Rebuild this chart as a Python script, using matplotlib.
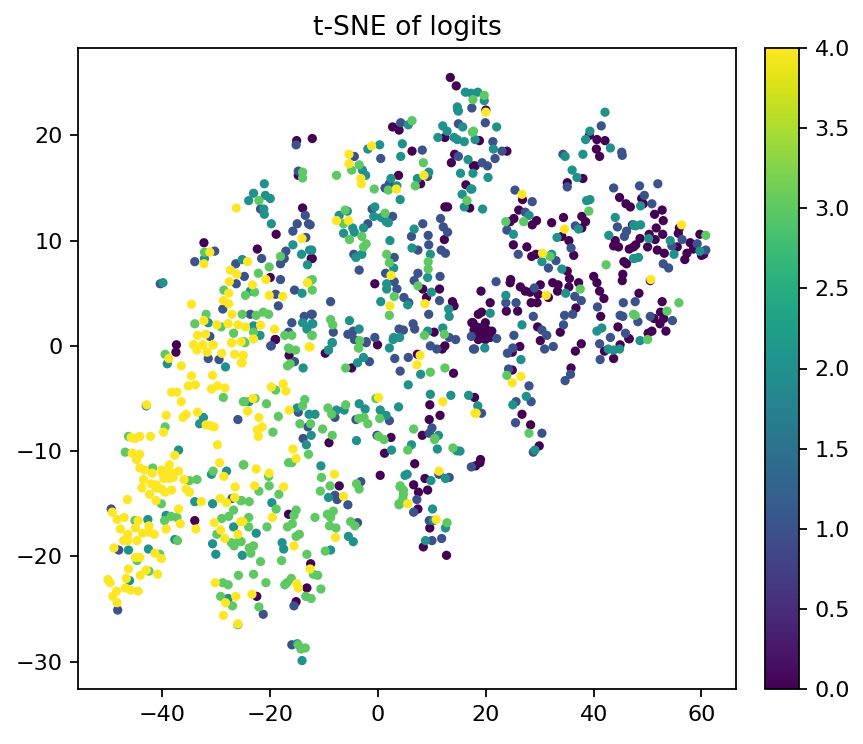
import matplotlib
matplotlib.use('Agg')
import matplotlib.pyplot as plt
import numpy as np

# t-SNE coordinates, one list per class
class_0 = [
    (-37.4,0.1),(-37.5,-0.6),(-34,-16.6),(-16.6,-16),(-12.5,-20.7),(-13.2,-23),(-15.2,-24.3),(-22.5,-23.8),
    (-19.1,.6),(-16.5,-0.9),(-9.8,-0.7),(-0.1,0.1),(-4.9,-2.1),(-9.1,-9.2),(2.4,-8.7),(1.2,-10.2),(0.4,-12.3),(-7.2,-13.3),
    (-18.9,10.6),(-14,13.1),(-22.4,9.2),(-32.3,9.8),(-12.4,8.3),(-20,6.5),(-19,.6),(-14.8,16.2),
    (-12.2,19.7),(-15.1,19.5),(2.7,20.8),(3.9,20.5),(6.3,18.5),(12.4,19.8),(14.2,18.2),(13.6,17.4),(17.7,17.1),(3.8,16.2),(7.9,15.4),
    (16.3,15.3),(12.9,13.2),(12.4,13.2),(17,13.1),(12.3,10.1),(-0.6,5.9),(8.3,5.4),(11.4,5.4),(-12.2,8.3),
    (9,4.6),(13.8,4.2),(14.1,3.8),(17.4,2.2),(17.8,1.5),(10.4,1.3),(12.4,0),(11.9,-.3),(7.3,-.8),(14,-2.6),
    (9.6,-5.6),(11.5,-6.6),(9.5,-7),(8.2,-8.5),(6.8,-11.2),(8.7,-12.6),(6.6,-13.2),(7.5,-13.9),(9.2,-13.7),(7.4,-15.5),(9.6,-17.3),(8.4,-19.1),
    (12.7,-19.9),(18.9,-11.1),(18.1,-11.4),(29.9,-9.5),(13.4,25.5),(14.5,24.7),(20,22.4),
    (19.1,5.2),(24.5,6),(26.4,5.6),(27.3,5.2),(28.2,5.1),(30.1,5.8),(29.7,4.9),(31.6,4.6),(32.4,6),(33.4,5.8),(33.3,5.2),(35.4,5.6),(37.2,6),
    (40.6,6),(45.3,6.2),(41.1,5.2),(41.9,4.5),(36.7,3.6),(20.8,4.1),(28.4,4.1),(29.5,4.1),(23.8,3.3),(25.9,3.3),(19.2,3.2),(18.6,3),(29.6,1.8),
    (41.3,2.8),(44.5,1.8),(33.8,1.3),(30.1,.5),(26.3,-.06),(24.9,-.6),(37.7,.2),(36.6,-.5),(46.6,.67),(44.9,.1),(42,-.5),(43.7,-1.2),(35.8,-2.1),
    (24.9,-2.3),(17.9,-4.9),(26.7,-6.5),(28.3,-7.5),(19,-10.8),
    (17.6,2.2),(18.3,1.8),(19.9,2.2),(18.9,1.5),(20.2,1.5),(21.1,1.4),(18,1.2),(19.2,1),(20.5,.9),(18.6,.6),(19.9,.6),(20.8,.8),(19.5,1.8),
    (18.8,19.5),(23.9,18.5),(18,17.1),(39.2,20),(40.6,19.6),(42.1,19.5),(40.5,18.7),(41.1,18),(38,15.9),(35.1,15.5),(26.8,13.9),(44.8,14.1),(46,13.5),
    (46.8,13.2),(26.1,12.9),(25.2,12.1),(24.5,11.8),(29.4,11.9),(28.6,11.5),(32.2,11.7),(34.4,12.2),(37.8,12.3),(38.5,11.8),(37.8,11.2),(34.1,10.4),
    (35.4,10),(25.1,9.6),(27.6,9.4),(29.3,8.7),(28.5,8.5),(36.3,8.6),(44,10),(43.7,9.5),(44.6,9.4),(46.6,9.2),(47.4,9.4),(45.6,8),(46.1,7.8),
    (45.4,6.8),(35.1,7.1),(35.5,6.4),(40,6.6),(24.6,6.3),
    (48.9,14),(49.2,13.5),(52.7,12.9),(51.3,12.5),(52.9,11.9),(47.2,11.5),(51.6,11.2),(52.8,10.6),(50.3,10.6),(48.6,10.2),(51.4,10.1),(55.9,11.2),
    (55.7,10.7),(59.7,10.6),(47.8,9.6),(50,9.4),(51.8,9.1),(53.1,8.8),(55.5,9.4),(57.9,9.8),(58.5,9.2),(57.3,8.8),(56.9,8.2),(60,8.6),(60.4,8.7),
    (50.5,6.2),(48.4,5),(52.7,4.2),(52.4,3.2),(51.2,2.6),(53,2.6),(52.3,2.1),(53.4,1.4),(50.8,1.4),(50.1,1.2),(46.5,.7),
]
class_1 = [
    (-31.5,-1.2),(-29.5,-1.3),(-26,-7.0),(-27.1,-14.5),(-49.5,-15.5),(-48.1,-19.4),(-48.3,-25.1),(-21.3,-25.5),(-15.6,-24.7),(-16,-28.4),
    (-3.8,-16.8),(-5.6,-15.1),(-7.6,-14.6),(-19.8,0),(-15.5,-1.5),(-2.2,0.3),(-1.6,-1.5),(3.1,-1.2),(4.1,-2.4),(-14.8,-6.3),(-13,-7.7),(-13.9,-8.8),
    (-8,-6.8),(-4.1,-7),(2.1,-7.1),(-0.2,-8.5),(-3.2,-12.9),(-8,-14.2),(-7.5,-14.5),
    (-21.8,13),(-13.5,12.4),(-15,11.6),(-12.9,11.6),(-15.8,10.9),(-13.4,10.3),(-30.3,9),(-34,8),(-17.1,9),(-17.4,8.3),(-18.1,7.8),(-21.6,8.3),
    (-26.4,7.8),(-24.8,6.6),(-26.3,5.9),(-18.1,6.3),(-15.5,5.3),(-19,4.9),(-18.5,3.8),(-28.8,3.5),(-23.7,3),(-13.7,2.8),(-16,2.2),(-12.4,3),(-16.6,1.3),
    (-19.9,0),(-31.2,0.9),(-40.4,5.9),(-14.8,16.6),(-15.2,19.1),
    (4.2,21.2),(0.5,17.8),(8.2,18.6),(14.9,21.1),(14.9,18),(-4.4,18),(9.2,16.1),(1.3,15),(2.1,15.4),(-1.1,13.0),(2.7,12.3),(-1.9,11.6),(11.6,12.1),
    (12.1,11.3),(12.9,10.8),(8.3,11.6),(6.2,10.4),(9.3,10.5),(9.4,9.6),(7.4,9.1),(11.7,9.1),(12.5,8.8),(-4.5,8.7),(3,8.4),(-3.5,7.2),(1.4,6.9),(3,6.1),
    (7.4,6.9),(6.7,6.2),(11.5,6.6),(3.5,5.4),(-12.6,11.5),(14.8,22.4),(17.4,22.6),
    (-8.8,4.2),(-12.2,3),(-8.3,1.3),(-5.6,1.1),(-4.6,1.4),(-4.4,.6),(-2.2,.4),(-.6,.8),(4.8,4.6),(5.7,4.1),(9.4,3),(11.4,4.3),(3.9,1.6),(4.7,1.5),
    (6.5,2.1),(6.8,1.6),(9.7,0),(10.9,-.3),(13.2,.8),(14.4,.6),(5.6,-1.1),(10,-7.8),(9.5,-8.3),(17.3,.9),(17.7,-.3),
    (17.3,-11.5),(11.3,-12.2),(13.2,-12.5),(7.2,-14.6),(6.6,-15.8),(9.5,-16.6),(10,-18.5),(11.8,-18.3),(28.8,-10.1),
    (21.9,6.1),(29,5.5),(23.7,4.1),(25.6,4.1),(28.8,2.8),(36.5,4.7),(37.7,4.3),(40.7,3.7),(45.5,4.1),(47.7,4.2),(34.6,2.9),(36.1,3),(34.4,2),(44.9,2.9),
    (45.4,2.8),(45.9,1.2),(43.1,.8),(41.1,.2),(30.4,1.5),(31.3,1),(25.2,1),(22,.7),(17.9,-.3),(25,-.2),(24,-.7),(30.9,-.3),(32.5,-.06),(41.2,-1.3),
    (24.2,-2.2),(35.7,-2.7),(34.7,-3.3),(28,-3.8),(28.4,-5.3),(25.6,-5.3),(19.2,-6.4),(25.5,-7.3),(30.4,-8.3),
    (19.9,21.2),(41.4,20.9),(21.3,19.4),(23,18.5),(21.7,17.8),(19.3,17.4),(20.3,17.1),(34.3,18.2),(45.2,18.4),(45.3,18.1),(35.1,15.1),(43.7,15),(25.4,14.8),
    (28.6,13.7),(27.3,12.7),(23.9,11),(36.6,11.4),(44.4,11.3),(46.1,10.9),(45.7,10.4),(26,8.7),(35.8,9.3),(33,8.1),(31.6,7.4),
    (48.5,15.2),(51.9,15.4),(49.4,14.3),(50.8,13.5),(56.4,10.1),(54.5,9.5),(59.2,9.7),(60.8,9.1),(52.9,7.8),(53.9,7.4),(48.2,2.3),(50.5,2.8),(54.6,2.4),
]
class_2 = [
    (-39.1,-1.7),(-28.3,-2.0),(-43,-5.7),(-32.4,-6.8),(-33.1,-7.4),(-37,-9.9),(-34,-14.8),(-30.9,-12.2),(-28.1,-11.9),(-30.7,-15.0),
    (-42.7,-16.5),(-39.3,-16.1),(-46.3,-19.4),(-42.6,-19.3),(-37.7,-18.4),(-46.1,-22.3),(-26.8,-17.2),(-30.7,-18.8),(-30.1,-19.8),(-25.2,-19.9),(-27.8,-24),
    (-19.7,-14.9),(-22.6,-17.8),(-17.8,-18.7),(-17.5,-19.3),(-15,-28.3),(-14.1,-29.9),(-8.8,-19.4),(-5.5,-18.1),(-4.6,-18.6),
    (-9.2,-0.4),(-8.5,0.3),(-13.9,-2.1),(-2.7,-1.1),(-3.8,-1.6),(2.1,-0.2),(2.8,0.6),(-23.9,-5.3),(-15,-5.9),(-12.8,-6.5),(-11.7,-6.5),(-12.4,-8.5),(-13.3,-9.4),
    (-7.7,-6.1),(-6.3,-6.1),(-3.5,-5.5),(-2.4,-6),(0.4,-6.1),(1.5,-6.6),(3.8,-5.8),(-4,-9),(2.5,-9.9),(-10.6,-11.4),(-9.2,-14.4),(5,-12.3),
    (-21.1,15.4),(-23.1,14.5),(-24,13.8),(-20.9,14.3),(-20,14),(-21.2,13),(-21.1,12.5),(-19.8,11.6),(-15.8,9.6),(-14.2,8.7),(-12.7,9.1),(-13.1,7.7),(-25.2,8.2),
    (-32.2,8.3),(-39.9,6),(-23.7,5.2),(-14.1,5),(-31.5,2.2),(-23.1,1.9),(-21.9,1.0),(-14,2.2),(-13.2,1.6),(-12.3,2.1),
    (5.6,21),(12,20.9),(15.7,20.8),(12.8,20.4),(11.1,19.8),(14.1,19.8),(14.7,19.6),(16,19.4),(14.9,22.3),(4.5,19.2),(0.3,19.1),(-1.9,18.7),(4.2,18),(16.7,17.7),
    (15.3,16.4),(-2.9,16.7),(-2.3,16.2),(2.4,15.9),(3.5,15.2),(4.1,13.9),(7.3,15.9),(9.4,16.5),(15.6,14.4),(17.2,14.9),(16,13.2),(-0.6,13.2),(-.8,12.3),(0.6,12.2),
    (1.5,11.8),(1.9,11.7),(-5.7,12.8),(-7.2,12.4),(-4.7,11.2),(-4.4,10.8),(-2.7,11.2),(-6.4,10.7),(6.7,11.1),(6.3,9.3),(2.2,10),(9.7,8.7),(-3,8.7),(-4.1,8.4),
    (2.9,7.4),(9.2,6.5),(1.6,5.9),(-12.3,9.1),(1.6,5.4),(9.9,5.1),(16.2,24.1),(17.3,24),(18.5,24.1),(14.7,22.7),(19.7,23.3),
    (.5,4.2),(5.5,3.9),(13.1,3.5),(13.2,2.8),(-5.3,2.4),(-3.5,1.6),(-12.1,2.1),(-8.5,.3),(-9.2,-.4),(12,1.7),(9.2,1.4),(2.9,.8),(4,.8),(7.9,-2.7),(5.6,-3.7),
    (9.7,-4.6),(13.5,-4.7),(16.8,-4.7),(11.2,-8.5),(11,-9.8),(15.2,-10),(14.6,-9.97),(6.2,-9.4),
    (5.4,-12.2),(9.8,-12.8),(12.5,-12.6),(10.1,-15.5),(10.3,-16.6),(12.5,-17.3),(8.8,-18.5),(29.1,-9.9),
    (23.7,4.8),(34.8,5),(20.8,3.1),(26.7,2),(19.8,-.2),(40.6,1.4),(41.5,1.7),(26.5,-1.3),(42.7,-.3),(43.7,-.4),(44.8,-.3),(27.5,-4.8),(25,-5.6),(18.5,-5.7),
    (22,20.8),(18,19.6),(21.4,18.7),(39.3,20.4),(38.5,19.6),(43.1,18.8),(38,18.2),(34.7,18),(20.4,16),(17.6,16.4),(36,16.7),(36.9,16),(38.7,13.8),(39.3,13.9),
    (19.4,13),(17.4,14.9),(28,12.4),(44,12.2),(25.1,10.6),(42.8,10.5),(33.2,10.3),(47.4,11.5),(47.4,8.3),(30.4,8),(32.2,8.7),(34.1,7.3),(37.2,11.1),(42.1,22.2),
    (48.7,13.3),(47.8,11.4),(48.7,11.5),(50.2,10.2),(54.2,10.0),(54.9,8.7),(47.5,8.3),(48.3,8.4),(59.7,9),(48.6,.5),
]
class_3 = [
    (-39.5,-0.8),(-28.7,-4.9),(-25,-5.3),(-39.5,-7.7),(-46.3,-8.6),(-46.9,-10.1),(-41.8,-11.6),(-40.2,-15),(-35,-12.8),(-33.6,-12.7),(-30.6,-11.9),(-25,-11.3),(-25.5,-14.7),(-26.8,-15.6),
    (-45.1,-16.6),(-39.6,-16.6),(-38.4,-16.2),(-37.3,-16.3),(-40.5,-19.8),(-44.7,-20.4),(-42.5,-21.4),(-37.2,-18.5),
    (-29,-16.4),(-27.7,-16.2),(-29.9,-17.9),(-27.2,-18.7),(-26.7,-19),(-25.7,-18.5),(-25.9,-21.8),(-28.8,-22.5),(-27.8,-22.7),(-29.2,-23.8),(-27,-24.7),(-26,-26.5),
    (-18.9,-15.5),(-24,-16.3),(-24,-17.2),(-20.6,-17.2),(-25.4,-18.6),(-23.1,-19),(-23.9,-19.2),(-23.6,-19.7),(-21.8,-20.5),(-23.1,-21.7),(-20.8,-22.5),(-22.1,-24.8),
    (-15.2,-15.6),(-15.6,-16.1),(-16.8,-17.2),(-15.9,-16.9),(-15.2,-18.1),(-14.6,-17.9),(-13.2,-19.8),(-17.9,-20.4),(-11.7,-16.3),(-12,-21.7),(-11.2,-21.8),(-16.1,-22.1),
    (-16.9,-22.5),(-17.3,-22.7),(-10.6,-23.1),(-13.4,-23.8),(-12.4,-24),(-14.8,-28.4),(-14.3,-28.8),(-13.5,-28.7),
    (-9.4,-16),(-8.3,-15.7),(-8.8,-16.3),(-9,-17.1),(-7.8,-17.3),(-5.1,-16.7),(-4.3,-17.1),(-9.8,-19.5),(3.9,-15.1),
    (-16.4,-0.3),(-15.3,-0.4),(-16.8,-1.9),(-16.3,-1.7),(-3.6,-0.2),(-6,-2.1),(-24.9,.4),(-19,-4.2),(-24.8,-5.3),(-22.8,-5),(-20.7,-5.5),(-18.5,-6.7),(-19.5,-8.2),
    (-13.6,-5.1),(-14,-5.7),(-14.5,-7.4),(-12.5,-7.4),(-10.3,-7.9),(-8.5,-8.5),(-9.3,-5.9),(-6,-5.6),(-8.6,-6.5),(-3.6,-6.9),(-2.6,-6.8),(-1.9,-7.4),(-0.4,-5),(0.3,-6.9),
    (0.1,-8.6),(1.1,-8.9),(-12.9,-10.3),(-16.6,-11.1),(-16,-11.1),(-24.9,-11.3),(-20.3,-12.4),(-20.2,-13.3),(-22.1,-13.8),(-18.4,-14.1),(-25.3,-14.7),(-23.9,-14.8),
    (-10.5,-12.5),(-8.9,-13.3),(-10.7,-13.8),(-4,-13.1),(-3.5,-13.6),(4.1,-13.4),(4.7,-14.1),(4,-15),
    (-22.1,13.8),(-32.2,8.9),(-18.1,8.5),(-20.2,7.5),(-22.2,6.9),(-28.6,5.3),(-24.6,4.8),(-22.9,5.1),(-12.6,6.2),(-12.2,5.3),(-25.2,3),(-22.6,2.9),(-21.3,3.2),(-20.3,3),
    (-31.9,3),(-34,2.1),(-29.1,1.8),(-26.8,1.2),(-23.1,1.3),(-24.7,.3),(-17.3,1),(-16,1),(-12.3,1),(-16.6,-0.2),(-14,15.95),(-14,16.5),
    (6.3,21.4),(17.5,20.3),(8.4,17.4),(-7.7,16.2),(-3.5,17.2),(-4.9,16.7),(-0.7,14.9),(1.9,14.8),(6.9,15.2),(16.5,13.8),(-6.1,12.9),(1.3,12.6),(-6.4,11.6),(-5.3,10.1),
    (-3,10.4),(-2.2,9.7),(-2.7,9.4),(1.6,8.7),(2.1,7.9),(9.3,8),(9.3,7.3),(-12.2,6.3),(7.4,5.7),(19.7,23.8),(17.6,23.4),
    (-8.8,2.5),(-8.4,2),(-12.2,1),(-3.4,.5),(-3.6,-.2),(2.1,2.9),(3,4.7),(8.6,1),(12.3,1.1),(9.7,-2.5),(12.4,-2.1),(6.6,-7.9),(10.5,-8.8),(13.9,-9.7),(5.5,-9.9),
    (4.1,-13.3),(4.7,-13.7),(4.6,-14.5),(3.9,-15),(12.8,-16.8),(10.5,-8.9),
    (37.5,5.4),(47.4,3),(23.9,-2.8),(28,-8.3),(17.7,20.4),(23.7,11.8),(27,11.8),(39.1,12.8),(31.9,8.5),(42.3,7.7),
    (60.8,10.5),(55.8,4.1),(47.7,2.9),(53.6,3.3),(50,.6),
]
class_4 = [
    (-38.8,-1.2),(-36.5,-1.9),(-34.2,0.1),(-33.6,-0.4),(-32.5,0.1),(-30.6,0.1),(-31.7,-0.6),(-29,-0.7),(-27.2,0.3),(-26.6,-0.8),(-25.4,-1.6),(-34.6,-2.85),(-30.7,-2.8),
    (-35.2,-3.8),(-33.9,-3.7),(-30.9,-4.1),(-29.8,-3.8),(-28.4,-4.0),(-38.3,-4.4),(-37.3,-4.4),(-36.5,-5.3),(-42.9,-5.6),(-39.3,-6.6),(-36.2,-6.8),(-35.6,-6.5),(-33.5,-6.3),
    (-31.9,-7.5),(-31.1,-7.6),(-30.4,-7.7),(-39.8,-8.2),(-45.8,-8.7),(-45.1,-8.8),(-44.2,-8.6),(-42.2,-8.6),(-29.8,-9.4),(-37.7,-10.4),(-45.6,-10.2),(-44.2,-10.3),(-44.8,-10.8),
    (-44.2,-11.6),(-43.3,-11.8),(-41.9,-12.1),(-40.2,-11.8),(-38.7,-11.3),(-39.9,-12.2),(-39.3,-11.9),(-38,-12.1),(-37,-11.9),(-39.7,-12.6),(-38.7,-12.6),(-38,-12.5),
    (-43.5,-12.7),(-43.8,-13.5),(-42.1,-13.1),(-41.1,-13.2),(-41.2,-13.5),(-40.2,-13.6),(-39.5,-13.9),(-38.3,-13.7),(-42.4,-14.1),(-46.5,-14.6),(-41.2,-14.7),(-36,-12.7),
    (-35.6,-13.6),(-35,-13.9),(-32.8,-14.8),(-37,-15.5),(-29.4,-11.1),(-28.6,-12.4),(-26.5,-13.4),(-29.3,-14.5),(-28.1,-14.9),(-26.6,-14.4),(-49.3,-15.8),
    (-48.4,-16.5),(-47.1,-16.3),(-44.5,-16.6),(-47.8,-17.4),(-45,-17.3),(-42.5,-17.1),(-46.4,-17.9),(-43.7,-17.8),(-42.5,-17.7),(-41.5,-17.9),(-39.3,-17.4),(-36.7,-16.9),
    (-47.2,-18.5),(-46.4,-18.5),(-44.7,-18.5),(-49,-19.2),(-41.4,-19.7),(-45,-20.1),(-44.2,-20.1),(-40.2,-20.2),(-46.3,-21.2),(-43,-21.3),(-44.1,-21.8),(-40.9,-21.7),
    (-46.7,-22.1),(-50.1,-22.2),(-49.7,-22.5),(-46.9,-23),(-45.9,-23.2),(-44.5,-23.3),(-48.5,-23.3),(-49.2,-23.8),(-48.4,-24.4),
    (-33.8,-17.4),(-30.4,-16.8),(-29.2,-17.5),(-28.4,-18.3),(-26,-17.9),(-25.5,-16.7),(-30.2,-22.5),(-26.4,-23.8),(-28.3,-24.4),(-28.7,-25.6),(-26,-26.4),
    (-19.6,-16.3),(-25.1,-16.7),(-23.4,-23.6),(-15.6,-19),(-12.6,-21.2),(-15.1,-22.6),(-14.8,-23),(-7.9,-18.2),
    (-25,-0.9),(-25.2,-1.6),(-12.8,-0.1),(-19.8,-3.9),(-17.6,-3.6),(-17.1,-4.3),(-23.2,-5),(-24.2,-6.2),(-22.1,-6.8),(-16.5,-6.1),(-21.5,-7.7),(-22.4,-8),(-22.2,-8.6),
    (-15.8,-9.8),(-15.2,-10.7),(-22.6,-11.7),(-20.2,-12.1),(-22.9,-13.3),(-17.5,-13.4),(-8.1,-12.2),(-6.4,-14.3),(0.1,-4.9),
    (-26.3,13.1),(-14.1,10.2),(-31.2,8.9),(-32.3,7.8),(-24.2,8),(-27.4,7.2),(-26.2,6.8),(-27.6,6.1),(-20.8,6.3),(-23.3,5.8),(-27.7,5),(-28.7,4.3),(-27.7,4),(-34.6,3.95),
    (-20.2,4.8),(-17.7,4.7),(-27.1,3),(-13.1,6),(-32.3,2.4),(-29.9,2),(-27.8,2.1),(-26,2),(-24.6,1.8),(-21.8,1.96),(-19.2,1.6),(-33.5,1),(-32,1.1),(-23.1,.66),
    (-34.2,.1),(-32.5,.1),(-30.6,.1),(-27.1,.3),(-25.4,.4),(-12.6,-.1),
    (-1.2,19),(-5.4,18.2),(-5.4,17.3),(-3.2,15.9),(-3.1,15.4),(3.4,14.9),(8.5,16.2),(-7.7,11.9),(-5.5,11.9),(2.4,6.7),(20,22.2),
    (2.2,3.8),(8.7,4),(7.2,-1.8),(7.8,-.9),(12,-5.3),(18,-6.4),(11.3,-11.9),(5.5,-15),(10.8,-16.5),
    (31.2,4.8),(26.5,-2.9),(24.9,-3.5),(18.2,-6.4),(26.7,14.4),(34.6,11.1),(30.5,8.8),(56.3,11.5),(50.6,6.3),
]

classes = [class_0, class_1, class_2, class_3, class_4]
tick_vals = [0.0, 0.5, 1.0, 1.5, 2.0, 2.5, 3.0, 3.5, 4.0]

xy = np.array([p for c in classes for p in c])
labels = np.concatenate([[i] * len(c) for i, c in enumerate(classes)])

fig = plt.figure(figsize=(863 / 160, 744 / 160), dpi=160)
ax = fig.add_axes([78 / 863, 55 / 744, 658 / 863, 641 / 744])
sc = ax.scatter(xy[:, 0], xy[:, 1], c=labels, cmap='viridis', s=10)
ax.set_xlim(-55.66, 66.4)
ax.set_ylim(-32.6, 28.3)
ax.set_title('t-SNE of logits')

cax = fig.add_axes([765 / 863, 55 / 744, 34 / 863, 641 / 744])
cbar = fig.colorbar(sc, cax=cax)
cbar.set_ticks(tick_vals)

fig.savefig('out.png', dpi=160)
